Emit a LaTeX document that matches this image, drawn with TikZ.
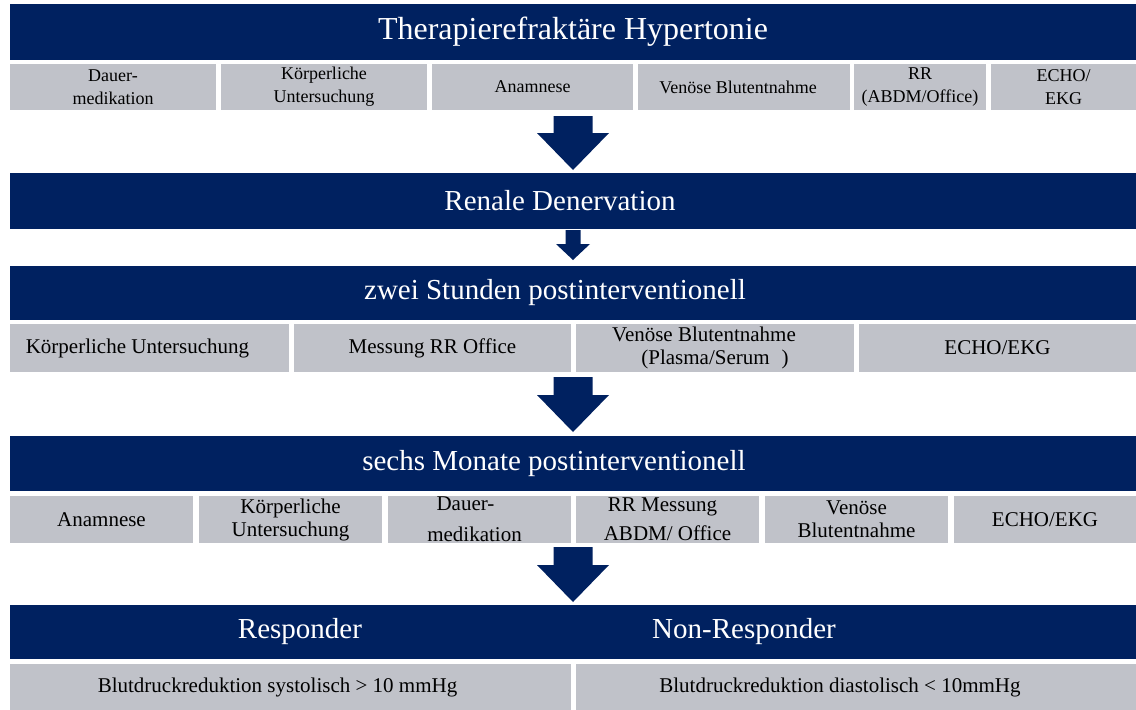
\documentclass[tikz,border=0pt]{standalone}
\usepackage{fontspec}
\setmainfont{Liberation Serif}
\newfontfamily\tms{Liberation Serif}
\usetikzlibrary{calc}
\definecolor{navy}{RGB}{0,33,96}
\definecolor{lgray}{RGB}{192,194,201}
\tikzset{
  box/.style={anchor=north west, inner sep=0pt, outer sep=0pt, align=center},
  bar/.style={box, fill=navy, text=white, font=\tms\fontsize{29}{34}\selectfont},
  titlebar/.style={bar, font=\tms\fontsize{32}{38}\selectfont},
  cell/.style={box, fill=lgray, text=black, font=\tms\fontsize{21}{23}\selectfont},
  cellsmall/.style={cell, font=\tms\fontsize{18}{23}\selectfont},
  bartext/.style={inner sep=0pt, text=white, font=\tms\fontsize{29}{34}\selectfont},
  arrowfill/.style={fill=navy},
}
% #1 style, #2 x1, #3 y1, #4 x2, #5 y2, #6 name, #7 text
\newcommand\bx[7]{\node[#1, minimum width={(#4)-(#2)}, minimum height={(#5)-(#3)}] (#6) at (#2,#3) {#7};}
% #1 from node, #2 to node, #3 top gap, #4 tip gap, #5 shaft half width, #6 head half width, #7 head length
\newcommand\darrow[7]{\fill[arrowfill] let \p1=(#1.south), \p2=(#2.north) in
  ({573pt-#5pt},{\y1-#3pt}) -- ({573pt+#5pt},{\y1-#3pt}) -- ({573pt+#5pt},{\y2+#4pt+#7pt})
  -- ({573pt+#6pt},{\y2+#4pt+#7pt}) -- (573pt,{\y2+#4pt}) -- ({573pt-#6pt},{\y2+#4pt+#7pt})
  -- ({573pt-#5pt},{\y2+#4pt+#7pt}) -- cycle;}
\begin{document}
\begin{tikzpicture}[x=1pt,y=-1pt]
\useasboundingbox[fill=white] (0,0) rectangle (1136,710);
% Stage 1
\bx{titlebar}{10}{4}{1136}{60}{t1}{Therapierefraktäre Hypertonie}
\bx{cellsmall}{10}{64}{216}{110}{a1}{Dauer-\\medikation}
\bx{cellsmall}{221}{64}{427}{110}{a2}{Körperliche\\Untersuchung}
\bx{cellsmall}{432}{64}{633}{110}{a3}{Anamnese}
\bx{cellsmall}{638}{64}{850}{110}{a4}{Venöse Blutentnahme\hspace*{12pt}}
\bx{cellsmall}{854}{64}{986}{110}{a5}{RR\\(ABDM/Office)}
\bx{cellsmall}{991}{64}{1136}{110}{a6}{ECHO/\\EKG}
% Stage 2
\bx{bar}{10}{173}{1136}{229}{t2}{Renale Denervation\hspace*{26pt}}
% Stage 3
\bx{bar}{10}{266}{1136}{320}{t3}{zwei Stunden postinterventionell\hspace*{36pt}}
\bx{cell}{10}{324}{289}{372}{b1}{Körperliche Untersuchung\hspace*{24pt}}
\bx{cell}{294}{324}{571}{372}{b2}{Messung RR Office}
\bx{cell}{576}{324}{854}{372}{b3}{Venöse Blutentnahme\hspace*{22pt}\\(Plasma/Serum\hspace{12pt})}
\bx{cell}{859}{324}{1136}{372}{b4}{ECHO/EKG}
% Stage 4
\bx{bar}{10}{436}{1136}{491}{t4}{sechs Monate postinterventionell\hspace*{38pt}}
\bx{cell}{10}{496}{193}{543}{c1}{Anamnese}
\bx{cell}{199}{496}{382}{543}{c2}{Körperliche\\Untersuchung}
\bx{cell}{388}{496}{571}{543}{c3}{Dauer-\hspace*{28pt}\\[8pt]medikation\hspace*{10pt}}
\bx{cell}{576}{496}{759}{543}{c4}{RR Messung\hspace*{10pt}\\[6pt]ABDM/ Office}
\bx{cell}{765}{496}{948}{543}{c5}{Venöse\\Blutentnahme}
\bx{cell}{954}{496}{1136}{543}{c6}{ECHO/EKG}
% Stage 5
\bx{bar}{10}{605}{1136}{659}{t5}{}
\node[bartext] (resp) at (300,632) {Responder};
\node[bartext] (nonresp) at (744,632) {Non-Responder};
\bx{cell}{10}{664}{571}{710}{d1}{Blutdruckreduktion systolisch > 10 mmHg\hspace*{26pt}}
\bx{cell}{576}{664}{1136}{710}{d2}{Blutdruckreduktion diastolisch < 10mmHg\hspace*{32pt}}
% Arrows
\darrow{a3}{t2}{6}{3}{19.5}{36}{37}
\darrow{t2}{t3}{1}{6}{7.5}{17}{16}
\darrow{b2}{t4}{5}{4}{19.5}{36}{37}
\darrow{c3}{t5}{4}{3}{19.5}{36}{37}
\end{tikzpicture}
\end{document}
